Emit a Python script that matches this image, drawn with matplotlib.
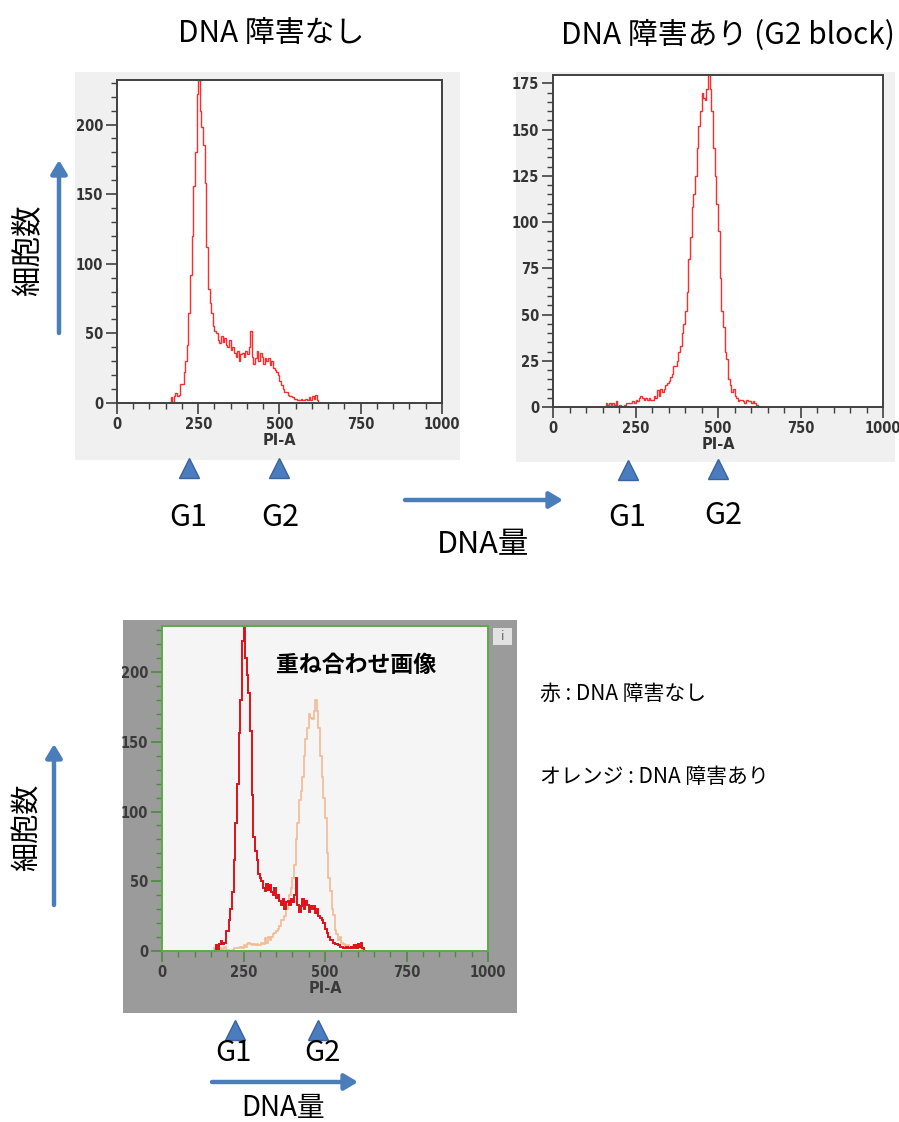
import matplotlib
matplotlib.use("Agg")
import matplotlib.pyplot as plt
import numpy as np
from matplotlib.patches import Rectangle, FancyArrowPatch
from matplotlib.lines import Line2D
from matplotlib.ticker import MultipleLocator

# ---------------- data ----------------
bin_start = 160
bin_width = 5
# DNA 障害なし (red), counts per 5-unit PI-A bin from 160 to 630
counts_no_damage = [
    0, 4, 0, 5, 7, 5, 6, 14, 14, 22,
    30, 42, 65, 92, 120, 156, 180, 222, 232, 210,
    198, 185, 158, 112, 82, 72, 65, 55, 52, 50,
    45, 43, 48, 44, 47, 42, 40, 45, 38, 40,
    36, 33, 37, 30, 35, 36, 33, 37, 35, 40,
    52, 33, 28, 32, 37, 30, 36, 33, 28, 32,
    30, 32, 27, 30, 25, 24, 22, 20, 16, 13,
    10, 8, 8, 6, 5, 5, 4, 3, 3, 2,
    2, 3, 2, 2, 3, 2, 4, 2, 5, 3,
    6, 2, 0, 0,
]
# DNA 障害あり (G2 block), counts per 5-unit PI-A bin from 160 to 630
counts_damage = [
    2, 1, 2, 0, 2, 1, 3, 0, 1, 0,
    0, 1, 2, 2, 2, 2, 3, 2, 4, 3,
    5, 6, 5, 4, 5, 4, 5, 4, 4, 6,
    5, 9, 6, 10, 8, 10, 12, 13, 14, 16,
    18, 22, 22, 25, 30, 33, 40, 45, 52, 62,
    80, 92, 108, 115, 125, 140, 152, 160, 170, 167,
    166, 172, 180, 172, 160, 140, 125, 110, 95, 70,
    52, 43, 30, 26, 15, 12, 8, 10, 6, 5,
    3, 4, 4, 3, 2, 4, 3, 3, 2, 3,
    2, 1, 0, 0,
]
x_ticks = [0, 250, 500, 750, 1000]
xlabel = "PI-A"
title_left = "DNA 障害なし"
title_right = "DNA 障害あり (G2 block)"
overlay_title = "重ね合わせ画像"
legend_red = "赤 : DNA 障害なし"
legend_orange = "オレンジ : DNA 障害あり"
ylabel_jp = "細胞数"
xlabel_jp = "DNA量"
phase_labels = ["G1", "G2"]

edges_nd = bin_start + bin_width * np.arange(len(counts_no_damage) + 1)
edges_d = bin_start + bin_width * np.arange(len(counts_damage) + 1)

# ---------------- fonts ----------------
JP = ["Noto Sans CJK JP", "DejaVu Sans"]
plt.rcParams["font.family"] = JP
tick_family = ["DejaVu Sans"]

W, H = 899, 1122
fig = plt.figure(figsize=(W / 100, H / 100), dpi=100)


def rect(x0, y0, x1, y1):
    return [x0 / W, 1 - y1 / H, (x1 - x0) / W, (y1 - y0) / H]


def fp(x, y):
    return (x / W, 1 - y / H)


def bg(x0, y0, x1, y1, color):
    fig.patches.append(Rectangle(fp(x0, y1), (x1 - x0) / W, (y1 - y0) / H,
                                 transform=fig.transFigure, facecolor=color,
                                 edgecolor="none", zorder=-10))


def style_axes(ax, ymax, ymajor, yminor, spine_color, tick_color, label_color):
    ax.set_xlim(0, 1000)
    ax.set_ylim(0, ymax)
    ax.set_xticks(x_ticks)
    ax.xaxis.set_minor_locator(MultipleLocator(50))
    ax.yaxis.set_major_locator(MultipleLocator(ymajor))
    ax.yaxis.set_minor_locator(MultipleLocator(yminor))
    for s in ax.spines.values():
        s.set_color(spine_color)
        s.set_linewidth(1.4)
    ax.tick_params(which="major", direction="out", length=8, width=1.2,
                   color=tick_color, labelcolor=label_color, labelsize=10.5, pad=2)
    ax.tick_params(which="minor", direction="out", length=4.5, width=1.0,
                   color=tick_color)
    for lab in ax.get_xticklabels() + ax.get_yticklabels():
        lab.set_family(tick_family)
        lab.set_fontstretch("condensed")
        lab.set_fontweight("bold")
    ax.set_xlabel(xlabel, fontsize=10.5, fontweight="bold", color=label_color,
                  labelpad=1, family=tick_family)


# backgrounds
bg(75, 72, 460, 460, "#f0f0f0")
bg(516, 72, 895, 462, "#f0f0f0")
bg(123, 620, 517, 1013, "#9b9b9b")

# top-left panel
ax1 = fig.add_axes(rect(117, 80, 442, 403))
ax1.stairs(counts_no_damage, edges_nd, color="#ff2a2a", lw=1.0, baseline=0)
style_axes(ax1, 232, 50, 10, "#404040", "#404040", "#333333")

# top-right panel
ax2 = fig.add_axes(rect(553, 75, 883, 407))
ax2.stairs(counts_damage, edges_d, color="#ff2a2a", lw=1.0, baseline=0)
style_axes(ax2, 179.5, 25, 5, "#404040", "#404040", "#333333")

# bottom overlay panel
ax3 = fig.add_axes(rect(162, 626, 488, 951))
ax3.set_facecolor("#f5f5f5")
ax3.stairs(counts_damage, edges_d, color="#f2b48a", lw=1.2, baseline=0, alpha=0.9)
ax3.stairs(counts_no_damage, edges_nd, color="#e0101a", lw=1.4, baseline=0)
style_axes(ax3, 233, 50, 10, "#5aaa46", "#4d8a3e", "#3a3a3a")
ax3.text(0.595, 0.88, overlay_title, transform=ax3.transAxes, ha="center",
         va="center", fontsize=16.5, fontweight="bold", color="black")

# small "i" button
bg(493, 628, 512, 645, "#e2e2e2")
fig.text(*fp(502.5, 636.5), "i", ha="center", va="center", fontsize=9,
         color="#666666", family=["DejaVu Sans"])

# titles
fig.text(*fp(271, 33), title_left, ha="center", va="center", fontsize=21.5)
fig.text(*fp(728, 36), title_right, ha="center", va="center", fontsize=21.5)

arrow_color = "#4a7ebb"


def arrow(x0, y0, x1, y1):
    fig.add_artist(FancyArrowPatch(fp(x0, y0), fp(x1, y1), transform=fig.transFigure,
                                   arrowstyle="-|>,head_length=0.5,head_width=0.3",
                                   mutation_scale=16, lw=3.2, color=arrow_color,
                                   shrinkA=0, shrinkB=0))


def tri(x, y):
    fig.add_artist(Line2D([x / W], [1 - y / H], transform=fig.transFigure,
                          marker="^", markersize=14, color="#4a7cc0",
                          markeredgecolor="#3b6399", markeredgewidth=1.0,
                          linestyle="none"))


# y-direction arrows & labels
arrow(59, 333, 59, 160)
fig.text(*fp(28, 250), ylabel_jp, rotation=90, ha="center", va="center", fontsize=22)
arrow(54, 905, 54, 744)
fig.text(*fp(28, 827), ylabel_jp, rotation=90, ha="center", va="center", fontsize=21)

# x-direction arrows & labels
arrow(405, 500, 563, 500)
fig.text(*fp(483, 545), xlabel_jp, ha="center", va="center", fontsize=22)
arrow(212, 1082, 358, 1082)
fig.text(*fp(283, 1108), xlabel_jp, ha="center", va="center", fontsize=20)

# G1 / G2 markers
for (tx, ty), (lx, ly), lab, fs in [
    ((189, 468), (188, 518), phase_labels[0], 22),
    ((279, 468), (280, 518), phase_labels[1], 22),
    ((628, 470), (627, 518), phase_labels[0], 22),
    ((718, 469), (723, 515), phase_labels[1], 22),
    ((235, 1030), (233, 1053), phase_labels[0], 21),
    ((318, 1030), (322, 1053), phase_labels[1], 21),
]:
    tri(tx, ty)
    fig.text(*fp(lx, ly), lab, ha="center", va="center", fontsize=fs)

# legend texts
fig.text(*fp(540, 694), legend_red, ha="left", va="center", fontsize=15)
fig.text(*fp(540, 777), legend_orange, ha="left", va="center", fontsize=15)

fig.savefig("out.png", dpi=100)
